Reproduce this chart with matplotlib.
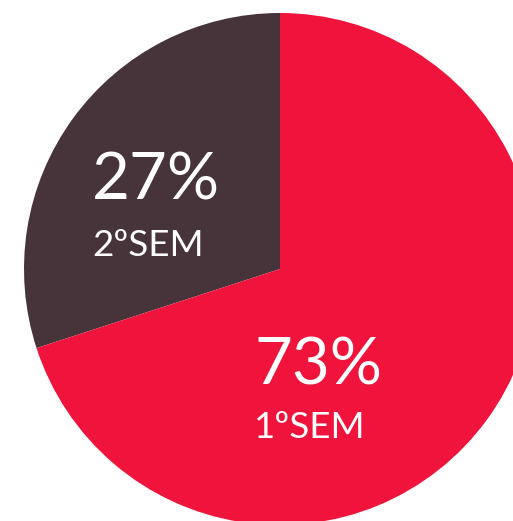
import matplotlib
matplotlib.use("Agg")
import matplotlib.pyplot as plt

# Data
categories = ["2ºSEM", "1ºSEM"]
shares = [30.0, 70.0]          # slice sizes as drawn in the picture
pct_labels = ["27%", "73%"]     # printed labels
colors = ["#47343A", "#F0143C"]

W, H = 513, 521
fig = plt.figure(figsize=(W / 100, H / 100), dpi=100)
ax = fig.add_axes([0, 0, 1, 1])

cx, cy, r = 280, H - 269, 256
ax.pie(shares, colors=colors, startangle=90, counterclock=True,
       center=(cx, cy), radius=r, frame=True,
       wedgeprops=dict(linewidth=0))
ax.set_xlim(0, W)
ax.set_ylim(0, H)
ax.set_aspect("equal")
ax.axis("off")

font = ["Lato", "DejaVu Sans"]
label_pos = {"2ºSEM": (92, 181, 246), "1ºSEM": (254, 366, 428)}
for cat, pct in zip(categories, pct_labels):
    x, y1, y2 = label_pos[cat]
    ax.text(x, H - y1, pct, color="white", fontsize=47, family=font,
            ha="left", va="center")
    ax.text(x, H - y2, cat, color="white", fontsize=26.5, family=font,
            ha="left", va="center")

fig.savefig("out.png", dpi=100)
